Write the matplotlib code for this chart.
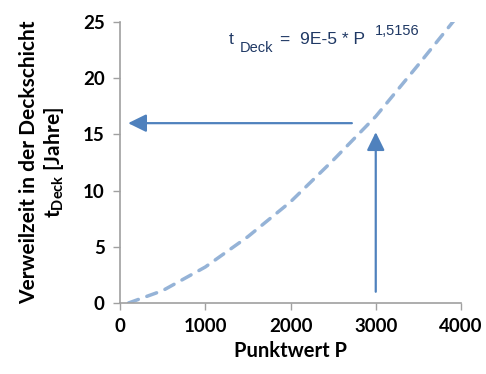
import numpy as np
import matplotlib
matplotlib.use("Agg")
import matplotlib.pyplot as plt

# Kurve: t_Deck ueber Punktwert P
punktwert = [100, 500, 1000, 1500, 2000, 2500, 3000, 3500, 4000]
t_deck = [0.0, 1.1, 3.2, 5.9, 9.0, 12.7, 16.6, 21.2, 25.9]

# Pfeile
pfeil_h_start = (2720, 16.0)
pfeil_h_ende = (95, 16.0)
pfeil_v_start = (3000, 1.0)
pfeil_v_ende = (3000, 15.2)

x_ticks = [0, 1000, 2000, 3000, 4000]
y_ticks = [0, 5, 10, 15, 20, 25]

plt.rcParams['mathtext.fontset'] = 'custom'
plt.rcParams['mathtext.rm'] = 'Lato:bold'
plt.rcParams['mathtext.bf'] = 'Lato:bold'

W, H = 486, 374
fig = plt.figure(figsize=(W / 100, H / 100), dpi=100)
ax = fig.add_axes([120 / W, 1 - 303 / H, (461 - 120) / W, (303 - 22) / H])

ax.plot(punktwert, t_deck, color='#95b3d7', lw=2.5, dashes=(3.0, 2.6),
        dash_capstyle='round', clip_on=True)

pfeil = dict(arrowstyle='-|>,head_length=0.55,head_width=0.27', lw=1.6,
             color='#4f81bd', mutation_scale=20, shrinkA=0, shrinkB=0)
ax.annotate('', xy=pfeil_h_ende, xytext=pfeil_h_start, arrowprops=pfeil)
ax.annotate('', xy=pfeil_v_ende, xytext=pfeil_v_start, arrowprops=pfeil)

ax.set_xlim(0, 4000)
ax.set_ylim(0, 25)
ax.set_xticks(x_ticks)
ax.set_yticks(y_ticks)
for s in ['top', 'right']:
    ax.spines[s].set_visible(False)
for s in ['left', 'bottom']:
    ax.spines[s].set_color('#a0a0a0')
    ax.spines[s].set_linewidth(1.2)
ax.tick_params(direction='out', length=5, width=1, color='#a0a0a0',
               labelsize=13.5, pad=6)
for lab in ax.get_xticklabels() + ax.get_yticklabels():
    lab.set_fontfamily('Lato')
    lab.set_fontweight('bold')

ax.set_xlabel('Punktwert P', fontfamily='Lato', fontweight='bold',
              fontsize=14.5, labelpad=4)
ax.set_ylabel('Verweilzeit in der Deckschicht\n' + r't$_{\mathbf{Deck}}$ [Jahre]',
              fontfamily='Lato', fontweight='bold', fontsize=15,
              linespacing=1.2, labelpad=12)

# Formel
farbe = '#1f3864'
kw = dict(fontfamily='Liberation Sans', color=farbe, ha='left', va='baseline')
fig.text(229 / W, 1 - 44 / H, 't', fontsize=12.6, **kw)
fig.text(240 / W, 1 - 52 / H, 'Deck', fontsize=10.5, **kw)
fig.text(280 / W, 1 - 44 / H, '=  9E-5 * P', fontsize=12.6, **kw)
fig.text(375 / W, 1 - 35 / H, '1,5156', fontsize=10.5, **kw)

fig.savefig('out.png', dpi=100)
